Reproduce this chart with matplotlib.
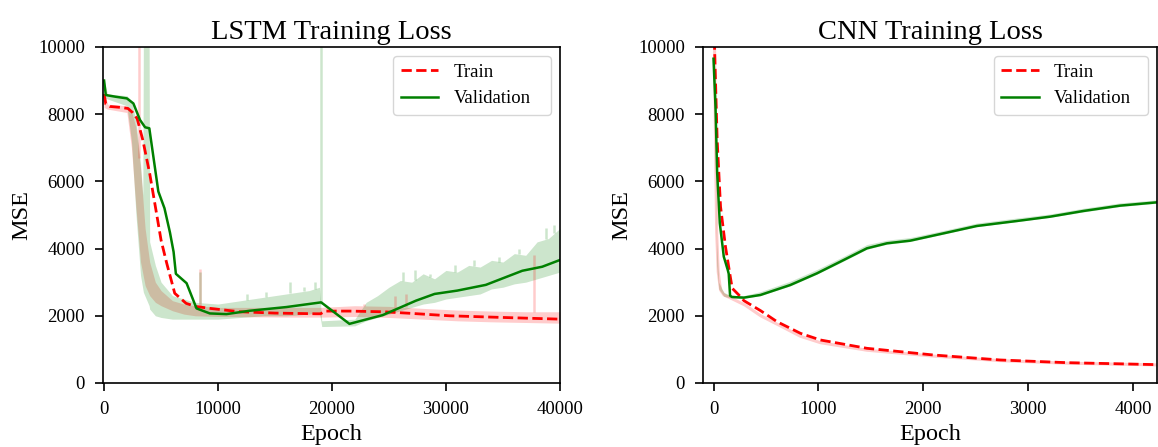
import numpy as np
import matplotlib
matplotlib.use('Agg')
import matplotlib.pyplot as plt

plt.rcParams['font.family'] = ['Liberation Serif', 'DejaVu Serif']
plt.rcParams['axes.linewidth'] = 1.2
plt.rcParams['xtick.major.width'] = 1.2
plt.rcParams['ytick.major.width'] = 1.2
plt.rcParams['xtick.major.size'] = 6
plt.rcParams['ytick.major.size'] = 6
plt.rcParams['xtick.major.pad'] = 7
plt.rcParams['ytick.major.pad'] = 7

# %% LSTM data
lstm_train_ep = [0, 150, 500, 1500, 2100, 2500, 2900, 3400, 4000, 4600, 5000, 5500, 6200,
                 7200, 8000, 9300, 11900, 15000, 18600, 19000, 19400, 21500, 24500, 26800,
                 30300, 35000, 40000]
lstm_train = [8600, 8300, 8230, 8200, 8170, 8050, 7870, 7230, 6240, 5050, 4250, 3560, 2670,
              2370, 2280, 2220, 2120, 2080, 2060, 2060, 2140, 2140, 2120, 2075,
              2000, 1950, 1900]

lstm_val_ep = [0, 150, 1000, 2000, 2570, 3150, 3600, 3970, 4760, 5300, 5780, 6100, 6300,
               7240, 8110, 9280, 10740, 12780, 16000, 19050, 21530, 24450, 27370, 29000,
               31000, 33500, 36700, 38450, 40000]
lstm_val = [9000, 8570, 8520, 8470, 8320, 7830, 7610, 7580, 5700, 5200, 4480, 3900, 3250,
            2970, 2220, 2070, 2050, 2150, 2260, 2400, 1760, 2020, 2450, 2650,
            2750, 2920, 3340, 3460, 3660]

# raw (noisy) curves as low/high envelopes
lstm_raw_train_ep = [0, 300, 2000, 2400, 2800, 3200, 3600, 4000, 4500, 5000, 6000, 7000, 8000,
                     10000, 13000, 16000, 19000, 22000, 25000, 28000, 31000, 34000, 37000, 40000]
lstm_raw_train_lo = [8200, 8150, 8050, 7000, 5200, 3600, 2900, 2600, 2400, 2300, 2150, 2050, 2000,
                     1980, 1970, 1960, 1960, 1980, 1950, 1900, 1850, 1820, 1800, 1780]
lstm_raw_train_hi = [8700, 8300, 8250, 8100, 7600, 6400, 4600, 3600, 3000, 2750, 2450, 2350, 2300,
                     2250, 2250, 2250, 2250, 2300, 2280, 2220, 2170, 2140, 2120, 2120]

lstm_raw_val_ep = [0, 300, 2000, 2400, 2800, 3200, 3400, 3450, 3950, 4000,
                   4500, 5000, 6000, 7000, 8000, 10000, 12000, 14000, 16000, 18000,
                   18900, 19100, 22000, 23000, 24000, 25000, 26000, 27000, 28000, 29000,
                   30000, 31000, 32000, 33000, 34000, 35000, 36000, 37000, 38000, 39000, 40000]
lstm_raw_val_lo = [8500, 8450, 8250, 7200, 5000, 3200, 2800, 2700, 2300, 2200,
                   2000, 1950, 1900, 1900, 1900, 1900, 1950, 2000, 2000, 2050,
                   2100, 1680, 1700, 1850, 1950, 2050, 2150, 2250, 2350, 2400,
                   2500, 2550, 2600, 2650, 2800, 2850, 2950, 3000, 3100, 3200, 3300]
lstm_raw_val_hi = [9000, 8600, 8550, 8400, 7800, 6500, 5600, 10500, 10500, 4200,
                   3500, 3000, 2600, 2500, 2400, 2350, 2450, 2550, 2650, 2750,
                   2850, 1850, 1900, 2400, 2600, 2850, 3050, 3000, 3250, 3100,
                   3350, 3300, 3500, 3450, 3650, 3600, 3850, 3800, 4200, 4300, 4600]

lstm_train_spike_ep = [3100, 8450, 22800, 25500, 26500, 37700]
lstm_train_spike = [10500, 3400, 2350, 2600, 2650, 3800]
lstm_val_spike_ep = [8450, 12500, 14200, 16300, 17500, 18500, 19000, 26200, 27300, 28600,
                     30800, 32500, 34700, 36400, 38800, 39500]
lstm_val_spike = [3300, 2650, 2700, 3000, 2850, 3000, 10500, 3300, 3350, 3250,
                  3500, 3650, 3750, 4000, 4600, 4700]

# %% CNN data
cnn_train_ep = [0, 35, 67, 114, 155, 178, 257, 290, 450, 606, 829, 1019, 1463, 2098, 2733, 3368, 4230]
cnn_train = [11100, 7230, 5250, 4060, 3260, 2820, 2570, 2450, 2150, 1824, 1478, 1280, 1032, 833, 685,
             605, 546]

cnn_val_ep = [0, 19, 35, 60, 98, 136, 145, 158, 175, 289, 448, 733, 987, 1210, 1463, 1654, 1876,
              2194, 2511, 2892, 3210, 3527, 3876, 4230]
cnn_val = [9650, 8224, 6250, 4760, 3760, 3363, 3250, 2600, 2560, 2540, 2620, 2917, 3264, 3611, 4008,
           4157, 4236, 4454, 4673, 4821, 4950, 5119, 5278, 5377]

cnn_raw_train_ep = [0, 10, 20, 30, 45, 67, 100, 162, 300, 450, 638, 829, 1019, 1463, 2098, 2733,
                    3368, 4230]
cnn_raw_train = [12000, 10000, 7000, 4500, 3300, 2770, 2620, 2530, 2320, 2000, 1700, 1390, 1200, 975,
                 800, 665, 590, 538]

cnn_raw_val_ep = [0, 10, 20, 30, 50, 98, 150, 225, 289, 448, 733, 987, 1210, 1463, 1654, 1876, 2194,
                  2511, 2892, 3210, 3527, 3876, 4230]
cnn_raw_val_lo = [9600, 9000, 6000, 3500, 2800, 2580, 2540, 2520, 2520, 2600, 2890, 3240, 3580, 3980,
                  4130, 4210, 4430, 4650, 4800, 4930, 5090, 5250, 5350]
cnn_raw_val_hi = [9700, 9400, 7000, 4200, 3000, 2700, 2620, 2600, 2600, 2720, 3030, 3380, 3720, 4120,
                  4250, 4330, 4540, 4760, 4910, 5030, 5200, 5360, 5450]

# %% figure
fig = plt.figure(figsize=(11.58, 4.47), dpi=100)
ax1 = fig.add_axes([0.0889, 0.1432, 0.3946, 0.7517])
ax2 = fig.add_axes([0.6071, 0.1432, 0.3921, 0.7517])

# LSTM raw
ax1.fill_between(lstm_raw_train_ep, lstm_raw_train_lo, lstm_raw_train_hi, color='r', alpha=0.2, lw=0)
ax1.fill_between(lstm_raw_val_ep, lstm_raw_val_lo, lstm_raw_val_hi, color='g', alpha=0.2, lw=0)
base_t = np.interp(lstm_train_spike_ep, lstm_raw_train_ep, lstm_raw_train_hi)
ax1.vlines(lstm_train_spike_ep, base_t, lstm_train_spike, color='r', alpha=0.2, lw=1.8)
base_v = np.interp(lstm_val_spike_ep, lstm_raw_val_ep, lstm_raw_val_hi)
ax1.vlines(lstm_val_spike_ep, base_v, lstm_val_spike, color='g', alpha=0.2, lw=1.8)
# LSTM smoothed
ax1.plot(lstm_train_ep, lstm_train, 'r--', lw=2, label='Train')
ax1.plot(lstm_val_ep, lstm_val, 'g-', lw=1.8, label='Validation')

# CNN raw
ax2.plot(cnn_raw_train_ep, cnn_raw_train, color='r', alpha=0.2, lw=2.2)
ax2.fill_between(cnn_raw_val_ep, cnn_raw_val_lo, cnn_raw_val_hi, color='g', alpha=0.2, lw=0)
# CNN smoothed
ax2.plot(cnn_train_ep, cnn_train, 'r--', lw=2, label='Train')
ax2.plot(cnn_val_ep, cnn_val, 'g-', lw=1.8, label='Validation')

for ax, title, xl, lx in [(ax1, 'LSTM Training Loss', (-100, 40000), 0.615),
                          (ax2, 'CNN Training Loss', (-100, 4230), 0.62)]:
    ax.set_title(title, fontsize=20.5)
    ax.set_xlabel('Epoch', fontsize=17.5)
    ax.set_ylabel('MSE', fontsize=17.5)
    ax.set_xlim(*xl)
    ax.set_ylim(0, 10000)
    ax.set_yticks(range(0, 10001, 2000))
    ax.tick_params(labelsize=13.5)
    ax.legend(loc='upper right', fontsize=13.5, mode='expand',
              bbox_to_anchor=(lx, 0, 1 - lx, 1))

ax1.set_xticks(range(0, 40001, 10000))
ax2.set_xticks(range(0, 4001, 1000))

plt.savefig('out.png', dpi=100)
